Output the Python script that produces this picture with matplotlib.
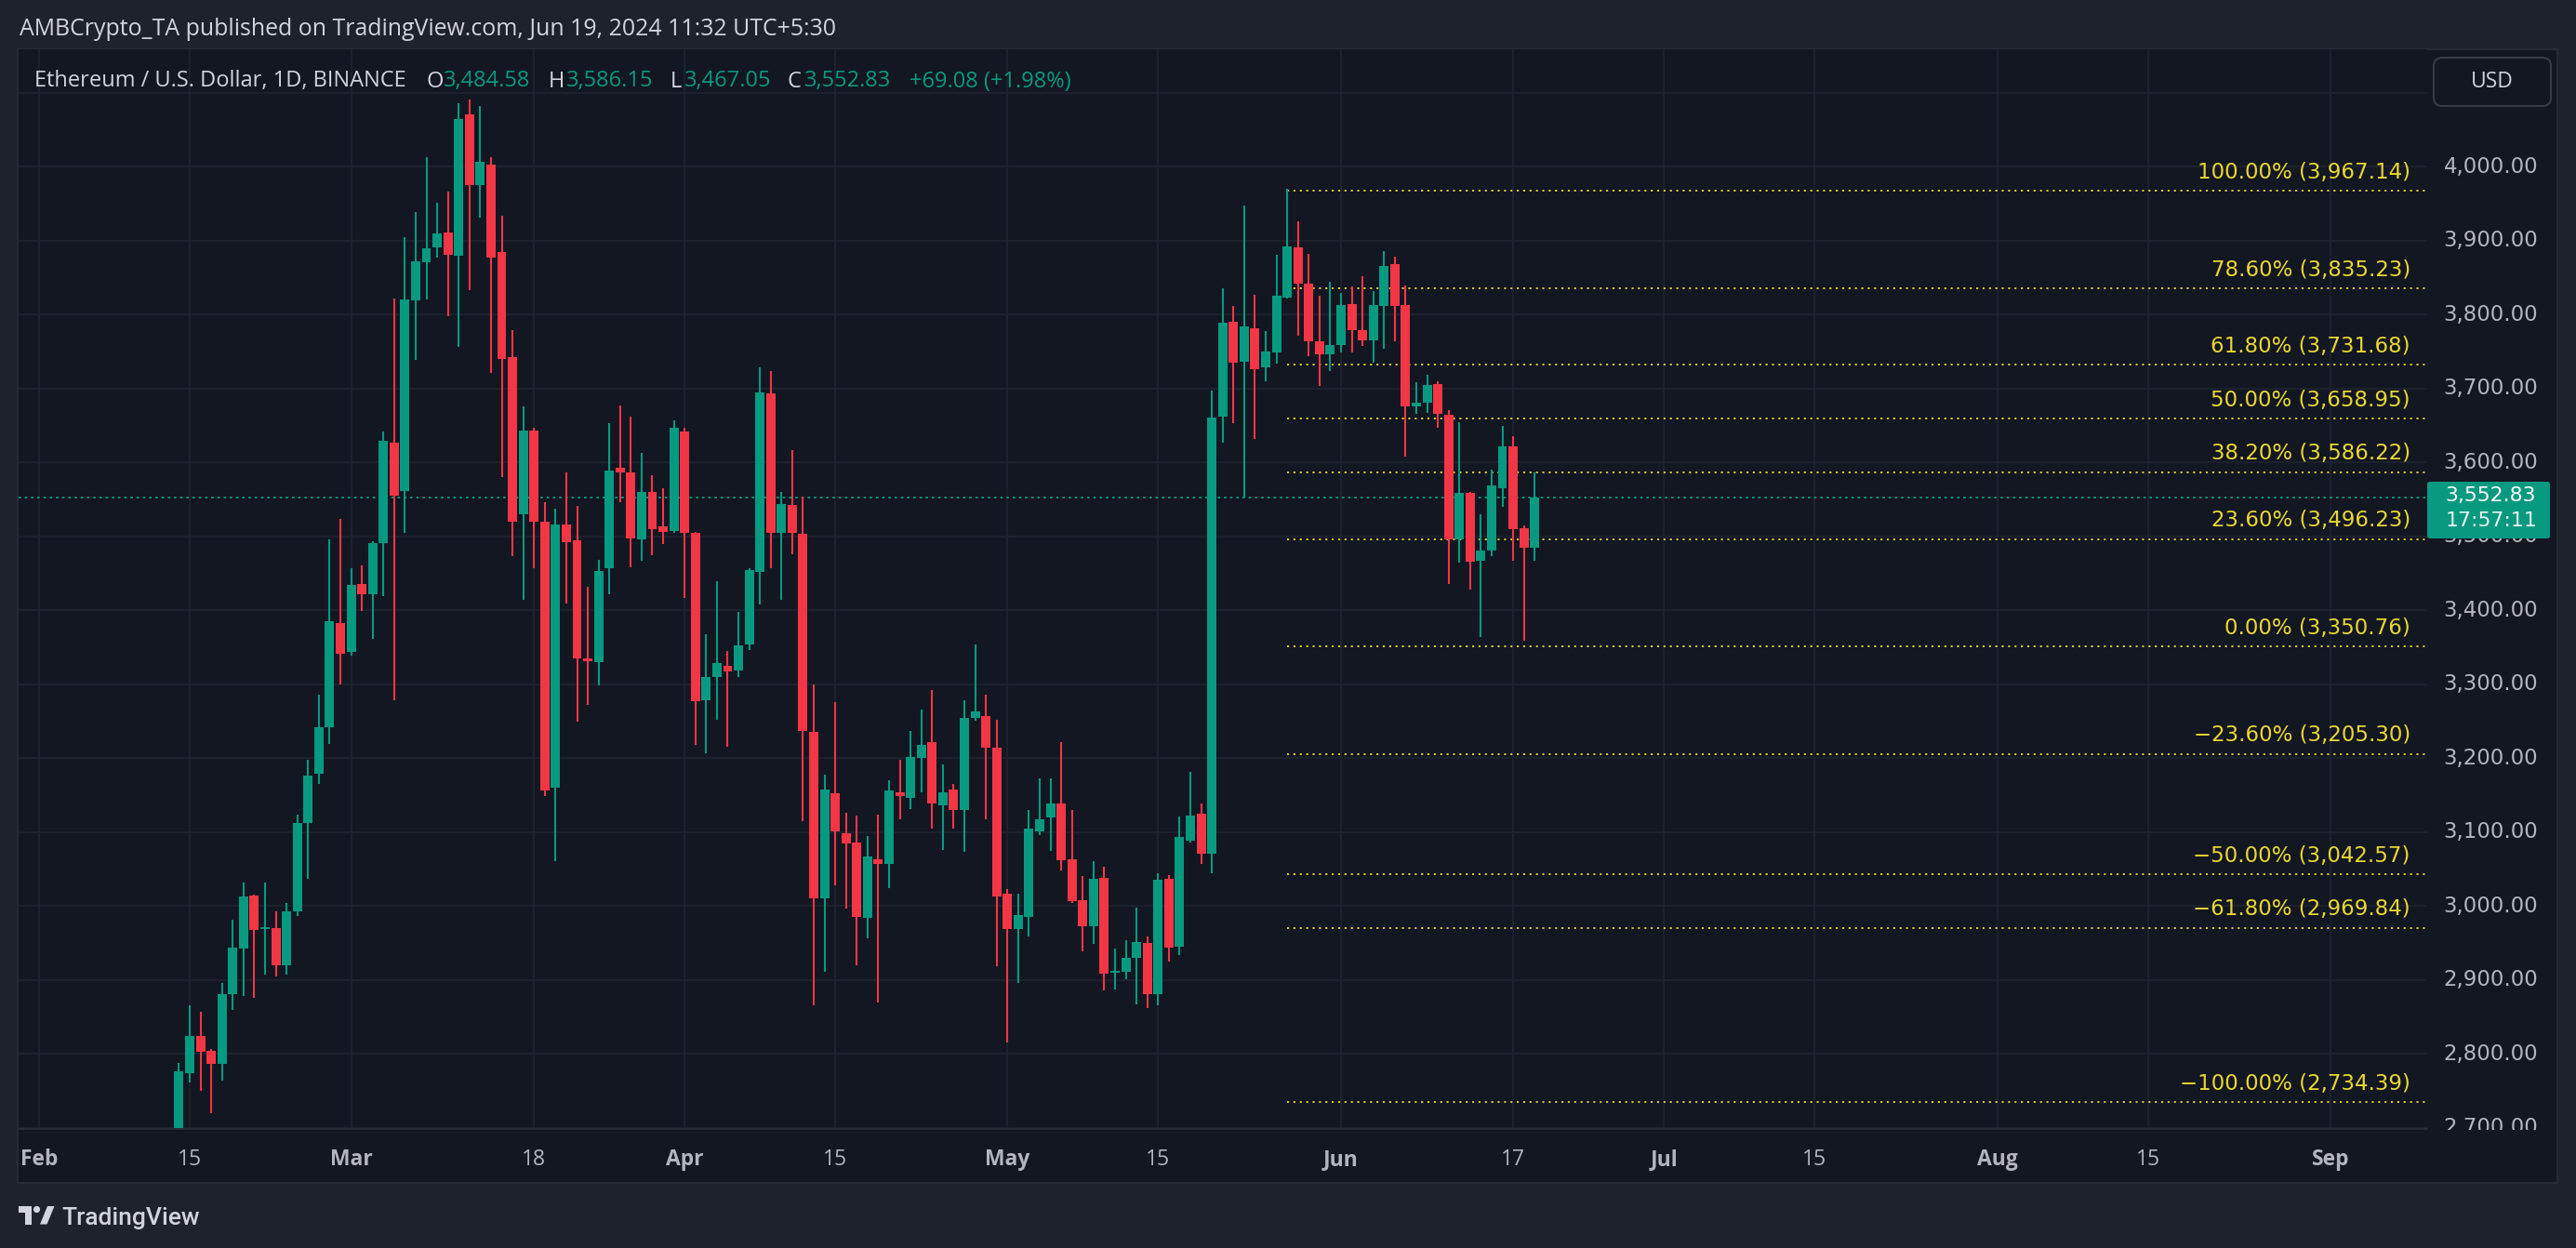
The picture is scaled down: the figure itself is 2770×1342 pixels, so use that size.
import matplotlib
matplotlib.use('Agg')
import matplotlib.pyplot as plt
import matplotlib.dates as mdates
import matplotlib.transforms as mtransforms
from matplotlib.patches import Rectangle, FancyBboxPatch, Circle, Polygon
import pandas as pd

plt.rcParams['font.family'] = ['Open Sans', 'DejaVu Sans']

# ---- data (ETH/USD daily) ----
dates = pd.date_range('2024-02-14', '2024-06-19', freq='D')

opens = [
    # Feb 14-29
    2642, 2774, 2824, 2804, 2786, 2880, 2942, 3014, 2969, 2970, 2920, 2993, 3112, 3179, 3241, 3383,
    # Mar
    3344, 3435, 3422, 3490, 3626, 3561, 3819, 3870, 3890, 3911, 3879, 4070, 3975, 4003, 3884, 3742,
    3530, 3643, 3519, 3160, 3516, 3494, 3335, 3329, 3457, 3592, 3586, 3496, 3560, 3513, 3507,
    # Apr
    3642, 3504, 3278, 3309, 3324, 3318, 3354, 3452, 3693, 3504, 3542, 3503, 3235, 3010, 3152,
    3098, 3085, 2984, 3063, 3057, 3154, 3146, 3200, 3221, 3136, 3157, 3129, 3254, 3257, 3214,
    # May
    3016, 2968, 2985, 3101, 3120, 3138, 3063, 3008, 2972, 3038, 2909, 2911, 2930, 2950, 2881, 3036,
    2945, 3088, 3125, 3070, 3662, 3790, 3736, 3781, 3728, 3749, 3823, 3891, 3842, 3764, 3746,
    # Jun 1-19
    3759, 3814, 3779, 3765, 3811, 3868, 3812, 3675, 3680, 3706, 3664, 3495, 3559, 3467, 3480,
    3565, 3622, 3511, 3484.58,
]
highs = [
    2788, 2866, 2857, 2806, 2895, 2981, 3032, 3015, 3032, 2992, 3004, 3123, 3198, 3286, 3496, 3523,
    3456, 3461, 3493, 3642, 3821, 3905, 3938, 4012, 3951, 3966, 4086, 4091, 4082, 4012, 3933, 3779,
    3676, 3646, 3546, 3537, 3586, 3541, 3432, 3468, 3653, 3677, 3662, 3612, 3582, 3565, 3656,
    3647, 3506, 3367, 3439, 3345, 3397, 3457, 3728, 3723, 3560, 3616, 3553, 3299, 3177, 3276,
    3126, 3122, 3094, 3123, 3170, 3197, 3236, 3265, 3292, 3191, 3165, 3278, 3353, 3285, 3251,
    3023, 3017, 3129, 3172, 3172, 3222, 3129, 3040, 3061, 3053, 2942, 2954, 2997, 2959, 3044, 3042,
    3121, 3181, 3138, 3697, 3835, 3811, 3947, 3827, 3778, 3881, 3970, 3926, 3882, 3825, 3844,
    3829, 3838, 3852, 3832, 3886, 3878, 3839, 3708, 3718, 3710, 3671, 3654, 3560, 3529, 3590,
    3649, 3635, 3515, 3586.15,
]
lows = [
    2630, 2761, 2750, 2719, 2764, 2859, 2878, 2875, 2907, 2904, 2907, 2986, 3037, 3165, 3219, 3299,
    3339, 3399, 3361, 3419, 3278, 3504, 3738, 3820, 3877, 3798, 3756, 3833, 3931, 3721, 3580, 3473,
    3414, 3457, 3148, 3060, 3409, 3249, 3272, 3298, 3422, 3546, 3458, 3467, 3474, 3489, 3505,
    3416, 3218, 3206, 3252, 3215, 3309, 3346, 3408, 3456, 3414, 3476, 3114, 2865, 2911, 3028,
    2996, 2920, 2956, 2869, 3024, 3117, 3131, 3154, 3105, 3076, 3104, 3073, 3250, 3117, 2918,
    2815, 2895, 2958, 3096, 3074, 3048, 3004, 2938, 2949, 2885, 2887, 2901, 2867, 2862, 2865, 2925,
    2933, 3086, 3056, 3044, 3626, 3653, 3552, 3632, 3710, 3733, 3822, 3771, 3743, 3703, 3723,
    3748, 3749, 3757, 3734, 3754, 3763, 3607, 3665, 3667, 3646, 3435, 3464, 3428, 3363, 3473,
    3540, 3467, 3359, 3467.05,
]
closes = [
    2776, 2824, 2802, 2786, 2880, 2944, 3013, 2967, 2971, 2920, 2993, 3112, 3176, 3242, 3385, 3341,
    3434, 3422, 3490, 3629, 3555, 3820, 3872, 3889, 3910, 3880, 4064, 3975, 4006, 3877, 3740, 3519,
    3643, 3519, 3156, 3516, 3492, 3335, 3331, 3453, 3589, 3586, 3497, 3560, 3510, 3506, 3646,
    3504, 3277, 3310, 3328, 3317, 3352, 3454, 3694, 3505, 3544, 3504, 3237, 3010, 3157, 3101,
    3084, 2985, 3067, 3056, 3156, 3148, 3201, 3218, 3139, 3154, 3129, 3254, 3263, 3214, 3012,
    2968, 2987, 3104, 3117, 3138, 3062, 3006, 2972, 3037, 2908, 2912, 2930, 2951, 2881, 3035, 2944,
    3093, 3122, 3070, 3661, 3789, 3735, 3784, 3726, 3750, 3825, 3892, 3841, 3763, 3746, 3759,
    3813, 3779, 3765, 3812, 3866, 3811, 3676, 3681, 3705, 3665, 3496, 3559, 3466, 3480, 3568,
    3622, 3509, 3484, 3552.83,
]

fib_labels = ['100.00%', '78.60%', '61.80%', '50.00%', '38.20%', '23.60%', '0.00%',
              '\u221223.60%', '\u221250.00%', '\u221261.80%', '\u2212100.00%']
fib_prices = [3967.14, 3835.23, 3731.68, 3658.95, 3586.22, 3496.23, 3350.76,
              3205.30, 3042.57, 2969.84, 2734.39]
fib_start = '2024-05-27'

price_labels = list(range(2700, 4001, 100))
grid_prices = list(range(2700, 4101, 100))
time_ticks = ['2024-02-01', '2024-02-15', '2024-03-01', '2024-03-18', '2024-04-01',
              '2024-04-15', '2024-05-01', '2024-05-15', '2024-06-01', '2024-06-17',
              '2024-07-01', '2024-07-15', '2024-08-01', '2024-08-15', '2024-09-01']
time_labels = ['Feb', '15', 'Mar', '18', 'Apr', '15', 'May', '15', 'Jun', '17',
               'Jul', '15', 'Aug', '15', 'Sep']

# ---- style ----
W, H, DPI = 2770, 1342, 100
FRAME = '#1e222d'
PANE = '#131722'
BORDER = '#2a2e39'
GRID = '#1f2330'
TXT = '#d1d4dc'
AXTXT = '#b2b5be'
UP = '#089981'
DOWN = '#f23645'
FIB = '#e9d732'
NUMFONT = ['DejaVu Sans']


def box(l, t, r, b):
    return [l / W, 1 - b / H, (r - l) / W, (b - t) / H]


fig = plt.figure(figsize=(W / DPI, H / DPI), dpi=DPI, facecolor=FRAME)

# background / frame
bg = fig.add_axes([0, 0, 1, 1], zorder=0)
bg.set_xlim(0, W)
bg.set_ylim(H, 0)
bg.axis('off')
bg.add_patch(Rectangle((19, 53), 2750 - 19, 1272 - 53, facecolor=PANE,
                       edgecolor=BORDER, lw=1.2))
bg.hlines(1213, 19, 2610, color=BORDER, lw=2)
bg.text(21, 38, 'AMBCrypto_TA published on TradingView.com, Jun 19, 2024 11:32 UTC+5:30',
        fontsize=17.9, color=TXT, va='baseline')

# TradingView logo
bg.add_patch(Rectangle((20, 1297), 14, 6.5, color=TXT, lw=0))
bg.add_patch(Rectangle((26.5, 1297), 7.5, 19.5, color=TXT, lw=0))
bg.add_patch(Circle((39.5, 1300.5), 3.6, color=TXT, lw=0))
bg.add_patch(Polygon([(43, 1316.5), (50.5, 1316.5), (58.5, 1297), (51, 1297)],
                     closed=True, color=TXT, lw=0))
bg.text(66, 1317, 'TradingView', fontsize=19, color=TXT, va='baseline',
        family=['Roboto', 'DejaVu Sans'], fontweight='medium')

# main price pane
ax = fig.add_axes(box(20, 53, 2610, 1213), zorder=1)
ax.set_facecolor(PANE)
xs = mdates.date2num(dates)
px_per_day = 11.57
x0 = mdates.date2num(pd.Timestamp('2024-02-01')) - 22 / px_per_day
ax.set_xlim(x0, x0 + 2590 / px_per_day)
ylo, yhi = 2699.4, 4158.5
ax.set_ylim(ylo, yhi)
tick_nums = mdates.date2num(pd.to_datetime(time_ticks))
ax.set_xticks(tick_nums)
ax.set_yticks(grid_prices)
ax.tick_params(which='both', length=0, labelbottom=False, labelleft=False)
ax.grid(True, color=GRID, lw=1.3)
ax.set_axisbelow(True)
for s in ax.spines.values():
    s.set_visible(False)

cols = [UP if c >= o else DOWN for o, c in zip(opens, closes)]
bottoms = [min(o, c) for o, c in zip(opens, closes)]
heights = [max(abs(c - o), 2.2) for o, c in zip(opens, closes)]
ax.vlines(xs, lows, highs, colors=cols, lw=1.5, zorder=3)
ax.bar(xs, heights, bottom=bottoms, width=0.86, color=cols, lw=0, zorder=4)

# last price line
ax.axhline(closes[-1], color=UP, lw=1.3, dashes=(1.5, 2.2), zorder=2)

# fib levels
fx0 = mdates.date2num(pd.Timestamp(fib_start))
ax.hlines(fib_prices, fx0, ax.get_xlim()[1], colors=FIB, lw=1.3,
          linestyles=[(0, (1.2, 2.6))], zorder=2)
fib_tr = mtransforms.offset_copy(ax.get_yaxis_transform(), fig=fig, y=13.5, units='dots')
for lab, p in zip(fib_labels, fib_prices):
    ax.text(0.993, p, f'{lab} ({p:,.2f})', transform=fib_tr, ha='right', va='baseline',
            color=FIB, fontsize=16.5, family=NUMFONT, zorder=5)

# time axis labels
for t, lab in zip(tick_nums, time_labels):
    wt = 'bold' if not lab.isdigit() else 'normal'
    ax.text(t, -0.0345, lab, transform=ax.get_xaxis_transform(), ha='center',
            va='baseline', color=AXTXT, fontsize=16.5, fontweight=wt, clip_on=False)

# price scale
pax = fig.add_axes(box(2610, 53, 2750, 1215), zorder=2)
pax.set_xlim(0, 1)
pax.set_ylim(2696.9, yhi)
pax.axis('off')
ptr = pax.get_yaxis_transform()
for p in price_labels:
    pax.text(0.49, p, f'{p:,.2f}', transform=ptr, ha='center', va='center',
             color=AXTXT, fontsize=16.5, family=NUMFONT, clip_on=True)

ppu = pax.bbox.height / (yhi - 2696.9)
last = closes[-1]
pax.add_patch(FancyBboxPatch((0, last - 44.5 / ppu), 0.943, 61 / ppu,
                             boxstyle='round,pad=0,rounding_size=0.02',
                             transform=ptr, facecolor=UP, edgecolor='none', zorder=5,
                             mutation_aspect=1 / ppu * 140))
pax.text(0.49, last, f'{last:,.2f}', transform=mtransforms.offset_copy(ptr, fig=fig, y=2, units='dots'),
         ha='center', va='center', color='white', fontsize=15.8, family=NUMFONT, zorder=6)
pax.text(0.49, last, '17:57:11', transform=mtransforms.offset_copy(ptr, fig=fig, y=-25, units='dots'),
         ha='center', va='center', color='#e8f5f2', fontsize=15.8, family=NUMFONT, zorder=6)

# overlay: legend row and currency button
ov = fig.add_axes([0, 0, 1, 1], zorder=5)
ov.set_xlim(0, W)
ov.set_ylim(H, 0)
ov.axis('off')
legend_parts = [
    (37, 'Ethereum / U.S. Dollar, 1D, BINANCE', TXT),
    (459, 'O', TXT), (477, f'{opens[-1]:,.2f}', UP),
    (590, 'H', TXT), (609, f'{highs[-1]:,.2f}', UP),
    (721, 'L', TXT), (736, f'{lows[-1]:,.2f}', UP),
    (846, 'C', TXT), (865, f'{closes[-1]:,.2f}', UP),
    (978, '+69.08 (+1.98%)', UP),
]
for x, s, c in legend_parts:
    ov.text(x, 93.5, s, color=c, fontsize=17, va='baseline')

ov.add_patch(FancyBboxPatch((2617, 62), 126, 52, boxstyle='round,pad=0,rounding_size=9',
                            facecolor=PANE, edgecolor='#363a45', lw=1.5))
ov.text(2680, 88, 'USD', ha='center', va='center', color=TXT, fontsize=16.5)

fig.savefig('out.png', dpi=DPI, facecolor=FRAME)
